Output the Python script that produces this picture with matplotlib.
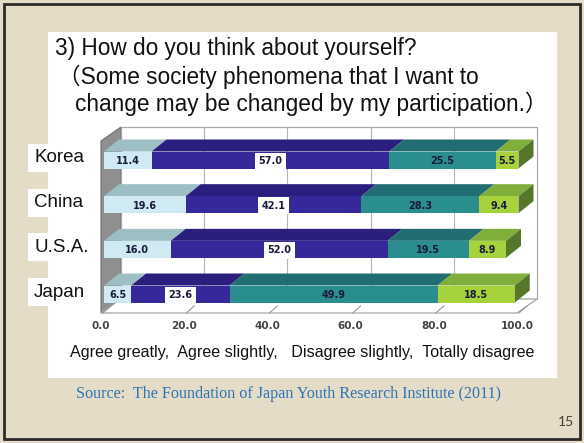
import numpy as np
import matplotlib
matplotlib.use("Agg")
import matplotlib.pyplot as plt
from matplotlib.patches import Polygon, Rectangle
from matplotlib import transforms

# survey shares (%) per country, stacked left to right
countries = ["Korea", "China", "U.S.A.", "Japan"]
agree_greatly = [11.4, 19.6, 16.0, 6.5]
agree_slightly = [57.0, 42.1, 52.0, 23.6]
disagree_slightly = [25.5, 28.3, 19.5, 49.9]
totally_disagree = [5.5, 9.4, 8.9, 18.5]
tick_values = [0, 20, 40, 60, 80, 100]

series = [agree_greatly, agree_slightly, disagree_slightly, totally_disagree]
front_cols = ["#CFEAF3", "#35289A", "#2A8E8E", "#A6D23C"]
top_cols = ["#9DBFC3", "#2A1F7C", "#216E72", "#80AE3A"]
side_cols = ["#7FA0A5", "#1E165C", "#185456", "#56762A"]

W, H = 584, 443
fig = plt.figure(figsize=(W / 100, H / 100), dpi=100)
fig.patch.set_facecolor("#E4DCC7")

# full-figure pixel canvas for the slide decoration
bg = fig.add_axes([0, 0, 1, 1])
bg.set_xlim(0, W)
bg.set_ylim(H, 0)
bg.axis("off")
bg.add_patch(Rectangle((4, 4), W - 8, H - 8, fill=False, ec="#2b2b2b", lw=2))
bg.add_patch(Rectangle((48, 32), 509, 346, fc="white", ec="none"))

title_font = ["Liberation Sans", "Noto Sans CJK JP"]
bg.text(55, 48, "3) How do you think about yourself?", fontsize=16.3,
        family=title_font, va="center", color="#111111")
bg.text(58, 77, "（Some society phenomena that I want to", fontsize=16.3,
        family=title_font, va="center", color="#111111")
bg.text(75, 104, "change may be changed by my participation.）", fontsize=16.3,
        family=title_font, va="center", color="#111111")

bg.text(302, 352, "Agree greatly,  Agree slightly,   Disagree slightly,  Totally disagree",
        fontsize=11.6, family="Liberation Sans", ha="center", va="center", color="#111111")
bg.text(289, 394, "Source:  The Foundation of Japan Youth Research Institute (2011)",
        fontsize=11.6, family="Liberation Serif", ha="center", va="center", color="#2E74B5")
bg.text(566, 422, "15", fontsize=10, family="Lato", ha="center", va="center", color="#4a3d30")

# chart axes: value 0 -> px 104, 100 -> px 521; category rows 44.67 px apart
x0_px, x100_px = 104, 521
ppu_x = (x100_px - x0_px) / 100
row0_px, row_px = 160, 44.67
ax_l, ax_r, ax_t, ax_b = 85, 550, 110, 340
ax = fig.add_axes([ax_l / W, 1 - ax_b / H, (ax_r - ax_l) / W, (ax_b - ax_t) / H])
ax.set_xlim((ax_l - x0_px) / ppu_x, (ax_r - x0_px) / ppu_x)
ax.set_ylim((ax_b - row0_px) / row_px, (ax_t - row0_px) / row_px)
ax.axis("off")
ax.patch.set_alpha(0)

def px_x(p):
    return p / ppu_x

def px_y(p):
    return p / row_px

# depth of bars and of the chart box
bdx, bdy = px_x(15), px_y(12)
wdx, wdy = px_x(20), px_y(14)
floor_y = (313 - row0_px) / row_px
wall_top = (127 - row0_px) / row_px
fx0 = px_x(-3)
fx1 = 100 + px_x(-4)

# left wall
ax.add_patch(Polygon([(fx0, floor_y), (fx0, wall_top + wdy), (fx0 + wdx, wall_top),
                      (fx0 + wdx, floor_y - wdy)], closed=True,
                     fc="#8f8f8f", ec="#6f6f6f", lw=0.8, zorder=1))
# back wall with grid
ax.add_patch(Polygon([(fx0 + wdx, wall_top), (fx1 + wdx, wall_top),
                      (fx1 + wdx, floor_y - wdy), (fx0 + wdx, floor_y - wdy)], closed=True,
                     fc="white", ec="#a8a8a8", lw=0.9, zorder=1))
for v in tick_values[1:-1]:
    gx = fx0 + wdx + v * (fx1 - fx0) / 100
    ax.plot([gx, gx], [wall_top, floor_y - wdy], color="#b4b4b4", lw=0.8, zorder=1)
# floor
ax.add_patch(Polygon([(fx0, floor_y), (fx1, floor_y), (fx1 + wdx, floor_y - wdy),
                      (fx0 + wdx, floor_y - wdy)], closed=True,
                     fc="white", ec="#a8a8a8", lw=0.9, zorder=1))
for v in tick_values:
    tx = fx0 + v * (fx1 - fx0) / 100
    ax.plot([tx + px_x(2), tx + px_x(10)], [floor_y, floor_y - px_y(7)],
            color="#9a9a9a", lw=0.8, zorder=1)
    ax.text(tx, floor_y + px_y(13), f"{v:.1f}", ha="center", va="center",
            fontsize=7.5, fontweight="bold", color="#444444", family="DejaVu Sans")

half = px_y(8.5)
for i, name in enumerate(countries):
    left = 0.0
    for k, vals in enumerate(series):
        v = vals[i]
        right = left + v
        top, bot = i - half, i + half
        ax.add_patch(Polygon([(left, top), (right, top), (right + bdx, top - bdy),
                              (left + bdx, top - bdy)], closed=True,
                             fc=top_cols[k], ec="none", zorder=3))
        ax.add_patch(Rectangle((left, top), v, 2 * half, fc=front_cols[k],
                               ec="none", zorder=4))
        if k == len(series) - 1:
            ax.add_patch(Polygon([(right, top), (right, bot), (right + bdx, bot - bdy),
                                  (right + bdx, top - bdy)], closed=True,
                                 fc=side_cols[k], ec="none", zorder=3))
        box = None
        if k == 1:
            box = dict(boxstyle="square,pad=0.35", fc="white", ec="none")
        ax.text(left + v / 2, i + px_y(1), f"{v:.1f}", ha="center", va="center",
                fontsize=7, fontweight="bold", color="#1a1a3a", bbox=box, zorder=6)
        left = right

# country labels on white tabs
lab_tr = transforms.blended_transform_factory(bg.transData, ax.transData)
for i, name in enumerate(countries):
    ax.text(34, i - px_y(2), name, transform=lab_tr, ha="left", va="center",
            fontsize=13.5, family="Liberation Sans", color="#111111",
            bbox=dict(boxstyle="square,pad=0.3", fc="white", ec="none"), zorder=7)

fig.savefig("out.png", dpi=100, facecolor=fig.get_facecolor())
